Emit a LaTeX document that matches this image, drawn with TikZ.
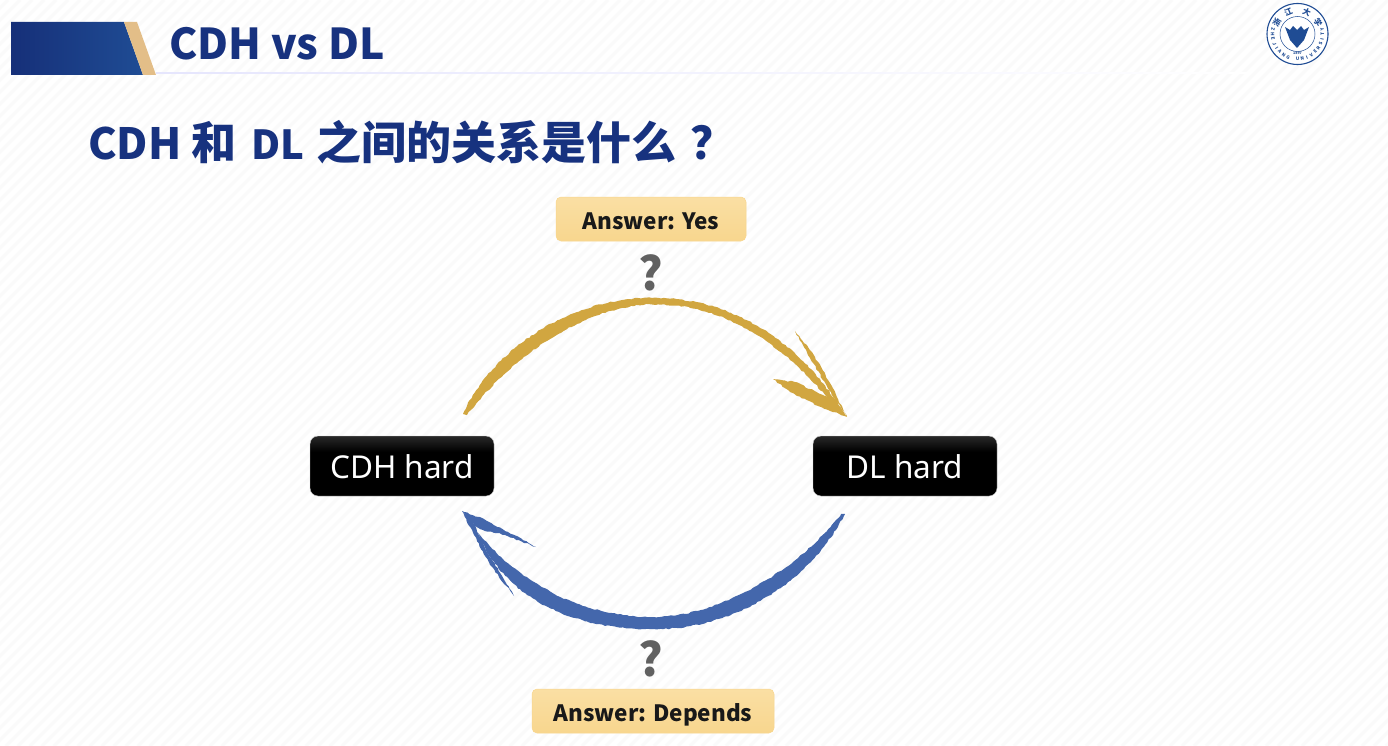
\documentclass[tikz,border=0pt]{standalone}
\usepackage{fontspec}
\setmainfont{Noto Sans}
\newfontfamily\cjkf{Noto Sans CJK SC}
\usetikzlibrary{decorations.pathmorphing,calc}
\definecolor{navy}{HTML}{17327F}
\definecolor{tan}{HTML}{E3BE88}
\definecolor{gold}{HTML}{D1A640}
\definecolor{brushblue}{HTML}{4467AC}
\definecolor{seal}{HTML}{1F4C94}
\definecolor{ansb}{HTML}{F8D68E}
\definecolor{anst}{HTML}{FADFA4}
\pgfdeclareverticalshading{boxgrad}{100bp}{color(0bp)=(black);color(50bp)=(black);color(62bp)=(black);color(80bp)=(black!78!white);color(100bp)=(black!72!white)}
\pgfdeclareverticalshading{ansgrad}{100bp}{color(0bp)=(ansb);color(25bp)=(ansb);color(75bp)=(anst);color(100bp)=(anst)}
\tikzset{
  hardbox/.style={rounded corners=8pt,shading=boxgrad,draw=black!20,line width=.4pt,text=white,minimum width=184pt,minimum height=60pt,inner sep=0pt,text height=24.6pt,text depth=0pt,font=\fontsize{31.5}{36}\selectfont},
  ansbox/.style={rounded corners=5pt,shading=ansgrad,draw=ansb,line width=.5pt,minimum height=44pt,inner sep=0pt,text height=20pt,text depth=0pt,text=black!90,font=\cjkf\bfseries\fontsize{22.5}{28}\selectfont},
  qmark/.style={text=black!62,inner sep=0pt,font=\cjkf\bfseries\fontsize{46}{46}\selectfont},
  brush/.style={decorate,decoration={random steps,segment length=3pt,amplitude=.7pt}},
  stripe/.style={draw=black!2,line width=3pt},
  sealtxt/.style={text=seal,inner sep=0pt,font=\cjkf\bfseries\fontsize{4.6}{5}\selectfont},
}
\newcommand{\hl}{\fontsize{43}{46}\selectfont}
\newcommand{\hd}{\fontsize{40}{46}\selectfont}
\newcommand{\hc}{\fontsize{45}{46}\selectfont}
\begin{document}
\begin{tikzpicture}[x=1pt,y=-1pt]
\pgfmathsetseed{7}
\useasboundingbox (0,0) rectangle (1388,746);
\fill[white] (0,0) rectangle (1388,746);
\begin{scope}
\clip (0,0) rectangle (1388,746);
\foreach \i in {-750,-738,...,1390} \draw[stripe] (\i,746) -- (\i+746,0);
\end{scope}
% header
\fill[left color=black!8!blue!10!white,right color=white,draw=none] (156,72.5) rectangle (1250,74);
\shade[left color=navy!95!black,right color=seal] (11,22) -- (124,22) -- (143,75) -- (11,75) -- cycle;
\fill[tan] (124,22) -- (137,22) -- (156,75) -- (143,75) -- cycle;
\node[anchor=west,inner sep=0pt,text=navy] (title) at (169,44) {\fontsize{42.5}{48}\selectfont\cjkf\bfseries CDH vs DL};
\node[anchor=west,inner sep=0pt,text=navy] (head) at (88,142) {\cjkf\bfseries\hl CDH\hspace{10pt}\hc 和\hspace{15pt}\hd DL\hspace{12pt}\hc 之间的关系是什么\hspace{14pt}？};
% logo
\coordinate (lc) at (1297.5,34);
\draw[seal,line width=1.1pt,fill=white] (lc) circle (30.5);
\draw[seal,line width=.5pt] (lc) circle (17.5);
\fill[seal] (1297,48) -- (1290,40) -- (1285,27) -- (1290,30) -- (1293,26) -- (1297,30) -- (1301,26) -- (1304,30) -- (1309,27) -- (1304,40) -- cycle;
\foreach \ch/\a/\n in {浙/-61/a,江/-23/b,大/23/c,学/61/d}
  \node[rotate=-\a,text=seal,inner sep=0pt,font=\cjkf\bfseries\fontsize{8}{8}\selectfont] (seal\n) at ($(lc)+({23.5*sin(\a)},{-23.5*cos(\a)})$) {\ch};
\node[sealtxt] (year) at (1297.5,53) {\fontsize{3.6}{4}\selectfont 1897};
\foreach \ch [count=\k] in {Z,H,E,J,I,A,N,G,{},U,N,I,V,E,R,S,I,T,Y}
  \pgfmathsetmacro{\th}{(\k-10)*11.2}
  \node[sealtxt,rotate=\th] (sl\k) at ($(lc)+({25*sin(\th)},{25*cos(\th)})$) {\ch};
% boxes
\node[hardbox] (cdh) at (402,466) {CDH hard};
\node[hardbox] (dl) at (905,466) {DL hard};
\node[ansbox,minimum width=190pt] (yes) at (651,219) {Answer: Yes};
\node[ansbox,minimum width=242pt] (dep) at (653,711) {Answer: Depends};
\node[qmark] (q1) at (651,273) {?};
\node[qmark] (q2) at (651,659) {?};
% gold arrow
\coordinate (gs) at (463,414);
\coordinate (gt) at (847,417);
\coordinate (gb1) at (795,331);
\coordinate (gb2) at (773,379);
\fill[gold,brush] (gs) .. controls (495,345) and (575,297) .. (652,298)
   .. controls (722,297) and (790,332) .. (838,404)
   -- (836,408) .. controls (785,345) and (725,303) .. (652,304.5)
   .. controls (590,305) and (515,352) .. (467,415) -- cycle;
\fill[gold,brush] (gb1) -- (812,352) -- (830,383) -- (847,417) -- (829,390) -- (810,358) -- cycle;
\fill[gold,brush] (gb2) -- (795,382) -- (825,396) -- (836,400) -- (847,417) -- (818,406) -- (790,392) -- cycle;
% blue arrow
\coordinate (bs) at (845,514);
\coordinate (bt) at (462,511);
\coordinate (bb1) at (536,547);
\coordinate (bb2) at (514,596);
\fill[brushblue,brush] (bs) .. controls (805,590) and (725,631) .. (650,629)
   .. controls (575,629) and (505,600) .. (478,533)
   .. controls (520,583) and (580,616) .. (650,617)
   .. controls (718,618) and (798,570) .. (841,514) -- cycle;
\fill[brushblue,brush] (bt) -- (484,519) -- (536,547) -- (505,535) -- (483,530) -- (475,526) -- cycle;
\fill[brushblue,brush] (bt) -- (472,520) -- (485,548) -- (514,596) -- (490,565) -- (474,535) -- cycle;
\end{tikzpicture}
\end{document}
